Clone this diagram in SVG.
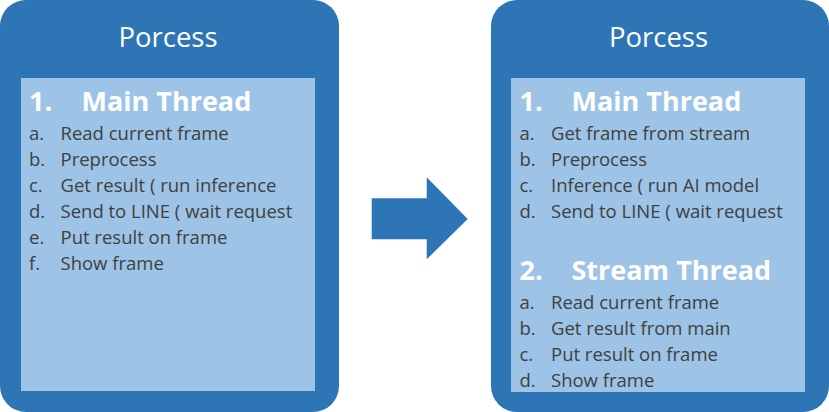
<svg xmlns="http://www.w3.org/2000/svg" width="829" height="412" viewBox="0 0 829 412">
<style>
.outer{fill:#2E75B6}
.inner{fill:#9DC3E6}
.title{font-family:"Open Sans","Liberation Sans",sans-serif;font-size:27.5px;fill:#FFFFFF;text-anchor:middle}
.head{font-family:"Open Sans","Liberation Sans",sans-serif;font-size:27px;font-weight:bold;fill:#FFFFFF}
.item{font-family:"Open Sans","Liberation Sans",sans-serif;font-size:18.5px;fill:#404040}
</style>
<rect width="829" height="412" fill="#FFFFFF"/>
<g id="process-left">
<rect class="outer" x="0" y="0" width="339" height="412" rx="26" ry="26"/>
<rect class="inner" x="21" y="78" width="294" height="313"/>
<text class="title" x="168" y="47">Porcess</text>
<text class="head" x="29" y="111">1.</text>
<text class="head" x="81.5" y="111">Main Thread</text>
<g class="item">
<text x="29" y="140">a.</text><text x="60.5" y="140">Read current frame</text>
<text x="29" y="166">b.</text><text x="60.5" y="166">Preprocess</text>
<text x="29" y="192">c.</text><text x="60.5" y="192">Get result ( run inference</text>
<text x="29" y="218">d.</text><text x="60.5" y="218">Send to LINE ( wait request</text>
<text x="29" y="244">e.</text><text x="60.5" y="244">Put result on frame</text>
<text x="29" y="270">f.</text><text x="60.5" y="270">Show frame</text>
</g>
</g>
<g id="connectors">
<polygon fill="#2E75B6" points="371.7,198.3 426.7,198.3 426.7,177.3 467.7,219 426.7,259.3 426.7,239.3 371.7,239.3"/>
</g>
<g id="process-right">
<rect class="outer" x="491" y="0" width="338" height="412" rx="26" ry="26"/>
<rect class="inner" x="511" y="78" width="294" height="314"/>
<text class="title" x="658.5" y="47">Porcess</text>
<text class="head" x="519.5" y="111">1.</text>
<text class="head" x="571.5" y="111">Main Thread</text>
<g class="item">
<text x="519.5" y="140">a.</text><text x="551" y="140">Get frame from stream</text>
<text x="519.5" y="166">b.</text><text x="551" y="166">Preprocess</text>
<text x="519.5" y="192">c.</text><text x="551" y="192">Inference ( run AI model</text>
<text x="519.5" y="218">d.</text><text x="551" y="218">Send to LINE ( wait request</text>
</g>
<text class="head" x="519.5" y="280">2.</text>
<text class="head" x="571.5" y="280">Stream Thread</text>
<g class="item">
<text x="519.5" y="308.5">a.</text><text x="551" y="308.5">Read current frame</text>
<text x="519.5" y="334.5">b.</text><text x="551" y="334.5">Get result from main</text>
<text x="519.5" y="360.5">c.</text><text x="551" y="360.5">Put result on frame</text>
<text x="519.5" y="386.5">d.</text><text x="551" y="386.5">Show frame</text>
</g>
</g>
</svg>
